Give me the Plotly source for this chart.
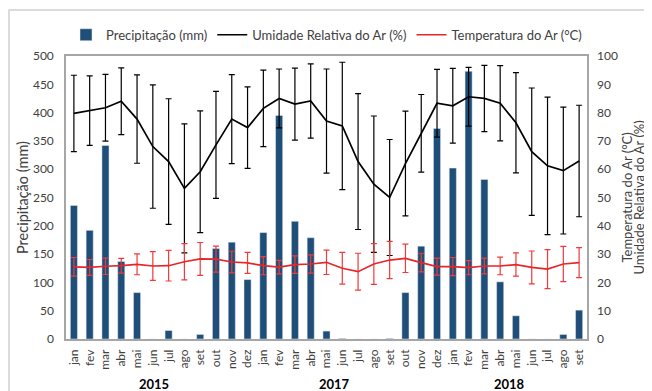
import plotly.graph_objects as go

months = ["jan", "fev", "mar", "abr", "mai", "jun", "jul", "ago", "set", "out", "nov", "dez",
          "jan", "fev", "mar", "abr", "mai", "jun", "jul", "ago", "set", "out", "nov", "dez",
          "jan", "fev", "mar", "abr", "mai", "jun", "jul", "ago", "set"]
years = ["2015", "2017", "2018"]
year_pos = [5.1, 16.5, 27.6]

precip = [236, 192, 342, 137, 82, 0, 15, 0, 8, 160, 171, 105,
          188, 395, 208, 179, 14, 1, 0, 0, 1, 82, 164, 372,
          302, 473, 282, 101, 41, 0, 0, 8, 51]

humid = [79.7, 80.7, 81.7, 84.0, 77.7, 68.0, 62.7, 53.2, 59.1, 68.6, 77.7, 74.7,
         81.5, 85.0, 83.0, 84.1, 77.0, 75.3, 62.7, 54.7, 50.0, 62.0, 72.7, 83.3,
         82.4, 85.6, 85.0, 83.3, 76.4, 66.2, 61.2, 59.5, 62.9]
humid_sd = [13.5, 12.3, 11.8, 11.8, 15.6, 21.8, 22.2, 22.8, 21.5, 18.9, 15.7, 14.4,
            13.5, 10.4, 12.7, 13.1, 18.4, 22.5, 24.0, 24.1, 20.5, 18.5, 13.7, 12.0,
            13.2, 10.4, 11.7, 13.3, 17.7, 22.5, 24.3, 22.4, 19.7]

temp = [25.5, 25.3, 25.7, 25.9, 26.4, 25.8, 25.9, 27.3, 28.3, 28.2, 27.2, 26.9,
        25.9, 25.4, 26.3, 26.5, 27.1, 25.0, 23.8, 26.5, 27.9, 28.5, 27.0, 25.6,
        25.6, 25.2, 25.8, 25.8, 26.3, 25.3, 24.7, 26.5, 27.0]
temp_sd = [3.3, 2.8, 2.9, 2.6, 3.7, 5.1, 5.4, 6.4, 5.8, 4.6, 3.8, 3.7,
           3.2, 2.4, 3.1, 3.2, 4.3, 5.6, 6.5, 7.2, 6.6, 5.0, 3.3, 3.0,
           3.2, 2.5, 2.8, 3.1, 4.1, 5.8, 6.9, 6.2, 5.3]

right_titles = ["Temperatura do Ar (°C)", "Umidade Relativa do Ar (%)"]

x = list(range(len(months)))
FONT = "Lato"
GRAY = "#404040"

fig = go.Figure()
fig.add_trace(go.Bar(x=x, y=precip, name="Precipitação (mm)", marker_color="#1F4E79",
                     width=0.45, yaxis="y"))
fig.add_trace(go.Scatter(x=x, y=humid, name="Umidade Relativa do Ar (%)", mode="lines",
                         line=dict(color="#000000", width=1.7), yaxis="y2",
                         error_y=dict(type="data", array=humid_sd, color="#000000",
                                      thickness=1.2, width=3)))
fig.add_trace(go.Scatter(x=x, y=temp, name="Temperatura do Ar (°C)", mode="lines",
                         line=dict(color="#E8262A", width=1.7), yaxis="y2",
                         error_y=dict(type="data", array=temp_sd, color="#EE3B3B",
                                      thickness=1.2, width=3)))

annotations = []
for yr, pos in zip(years, year_pos):
    annotations.append(dict(x=pos, y=-0.159, xref="x", yref="paper", text="<b>" + yr + "</b>",
                            showarrow=False, font=dict(family=FONT, size=13, color="#000000"),
                            xanchor="center", yanchor="middle"))
for txt, xp in zip(right_titles, [1.0749, 1.0998]):
    annotations.append(dict(x=xp, y=0.5, xref="paper", yref="paper", text=txt, textangle=-90,
                            showarrow=False, font=dict(family=FONT, size=13, color=GRAY),
                            xanchor="center", yanchor="middle", borderpad=0))

fig.update_layout(
    width=644, height=383,
    margin=dict(l=58, r=65, t=48, b=52, autoexpand=False),
    paper_bgcolor="white", plot_bgcolor="white",
    font=dict(family=FONT, size=12, color=GRAY),
    showlegend=True,
    legend=dict(orientation="h", x=0.5, xanchor="center", y=1.075, yanchor="middle",
                font=dict(family=FONT, size=13, color=GRAY), itemwidth=30,
                tracegroupgap=0, bgcolor="rgba(0,0,0,0)"),
    bargap=0.5,
    xaxis=dict(range=[-0.5, len(months) - 0.5], tickmode="array", tickvals=x, ticktext=months,
               tickangle=-90, showgrid=False, zeroline=False, showline=True,
               linecolor="#A6A6A6", linewidth=1.5, mirror=True, ticks="",
               ticklabelstandoff=4, tickfont=dict(family=FONT, size=12, color=GRAY)),
    yaxis=dict(range=[0, 500], dtick=50, showgrid=False, zeroline=False, showline=True,
               linecolor="#A6A6A6", linewidth=1.5, mirror=True, ticks="",
               ticklabelstandoff=8,
               title=dict(text="Precipitação (mm)", font=dict(family=FONT, size=14.5, color=GRAY),
                          standoff=1),
               tickfont=dict(family=FONT, size=12, color=GRAY)),
    yaxis2=dict(range=[0, 100], dtick=10, overlaying="y", side="right", showgrid=False,
                zeroline=False, showline=False, ticks="", ticklabelstandoff=9,
                tickfont=dict(family=FONT, size=12, color=GRAY)),
    annotations=annotations,
    shapes=[dict(type="rect", xref="paper", yref="paper", x0=-0.1094, y0=-0.3,
                 x1=1.3, y1=1.1625, line=dict(color="#D0D0D0", width=1.5),
                 fillcolor="rgba(0,0,0,0)", layer="below")],
)

fig.write_html("out.html")
